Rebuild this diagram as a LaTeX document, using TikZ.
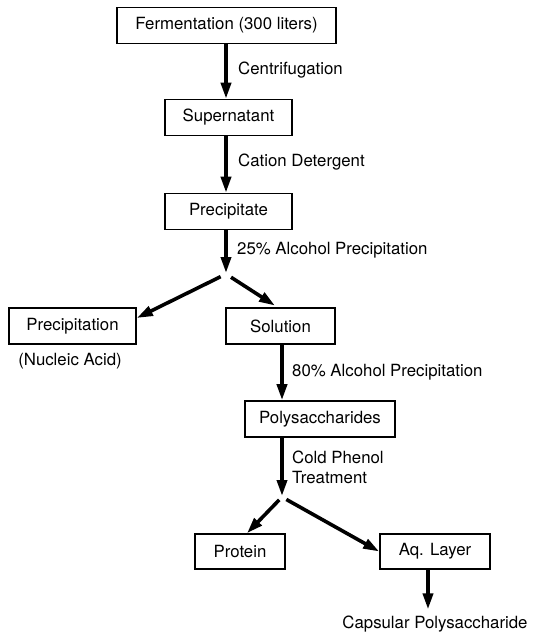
\documentclass[tikz,border=0pt]{standalone}
\usepackage{fontspec}
\setmainfont{TeX Gyre Heros}
\usetikzlibrary{arrows.meta,positioning}

\begin{document}
\begin{tikzpicture}
      [x=1pt, y=-1pt,
      font=\fontsize{16.8}{20}\selectfont,
      box style/.style={draw, rectangle, line width=1.6pt, minimum height=36pt, inner sep=0pt},
      step label/.style={anchor=west, inner sep=0pt, align=left},
      flow arrow/.style={draw, line width=3.6pt, -{Triangle[length=16pt, width=10pt]}},
      ]
      \useasboundingbox (0,0) rectangle (545,633);

      % main chain of boxes
      \node[box style, minimum width=219pt] (ferm) at (226.5,25.5) {Fermentation (300 liters)};
      \node[box style, minimum width=127pt] (super) at (228.5,117.5) {Supernatant};
      \node[box style, minimum width=127pt] (precip) at (228.5,211.5) {Precipitate};
      \node[box style, minimum width=127pt] (nucl) at (72.5,326) {Precipitation};
      \node[box style, minimum width=109pt] (sol) at (280.5,326) {Solution};
      \node[box style, minimum width=150pt] (poly) at (320,419) {Polysaccharides};
      \node[box style, minimum width=90pt, minimum height=35pt] (prot) at (240,551.5) {Protein};
      \node[box style, minimum width=110pt, minimum height=35pt] (aq) at (435,551.5) {Aq. Layer};

      \node (nuclnote) at (70,361) {(Nucleic Acid)};
      \node (caps) at (435,624) {Capsular Polysaccharide};

      % branching points
      \coordinate (split1) at (226,274);
      \coordinate (split2) at (282,497);

      % step labels
      \node[step label] (centr) at (238,70) {Centrifugation};
      \node[step label] (cation) at (238,162) {Cation Detergent};
      \node[step label] (alc25) at (237,250) {25\% Alcohol Precipitation};
      \node[step label] (alc80) at (292,372) {80\% Alcohol Precipitation};
      \node[step label] (phenol) at (292,467) {Cold Phenol\\Treatment};

      % connectors
      \draw[flow arrow] (ferm.south -| split1) -- (split1 |- super.north);
      \draw[flow arrow] (super.south -| split1) -- (split1 |- precip.north);
      \draw[flow arrow, shorten >=1pt] (precip.south -| split1) -- (split1);
      \draw[flow arrow, shorten <=6pt] (split1) -- ([yshift=8pt]nucl.east);
      \draw[flow arrow, shorten <=6pt, shorten >=3pt] (split1) -- ([xshift=-3pt]sol.north);
      \draw[flow arrow] (sol.south -| split2) -- (split2 |- poly.north);
      \draw[flow arrow, shorten >=1pt] (split2 |- poly.south) -- (split2);
      \draw[flow arrow, shorten <=4pt] (split2) -- ([xshift=7pt]prot.north);
      \draw[flow arrow, shorten <=5pt] (split2) -- (aq.west);
      \draw[flow arrow, shorten >=3pt] ([xshift=-7pt]aq.south) -- ([xshift=-7pt]aq.south |- caps.north);
\end{tikzpicture}
\end{document}
